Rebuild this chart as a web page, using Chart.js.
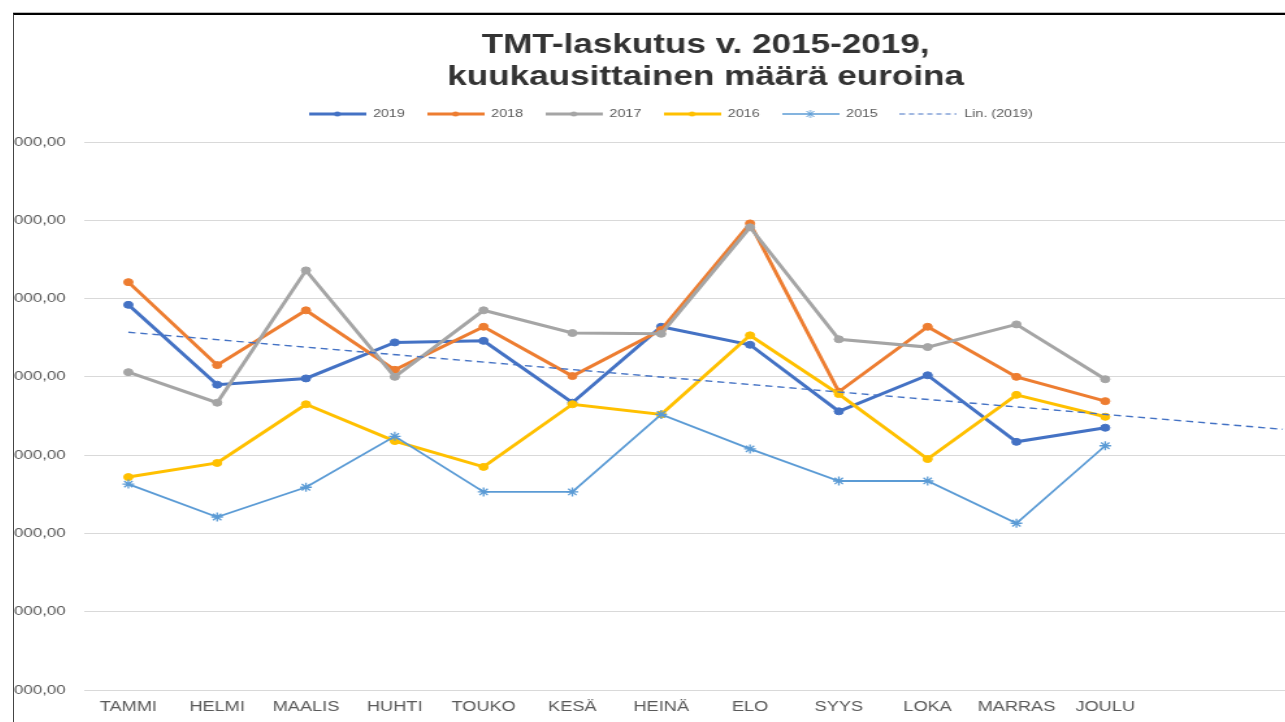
<!DOCTYPE html>
<html>
<head>
<meta charset="utf-8">
<script src="https://cdn.jsdelivr.net/npm/chart.js@4.4.1/dist/chart.umd.min.js"></script>
<style>
  html, body { margin: 0; padding: 0; background: #fff; width: 1285px; height: 722px; overflow: hidden; }
  #frame {
    position: absolute; left: 13px; top: 13px; width: 1290px; height: 720px;
    border-top: 2px solid #000; border-left: 1px solid #444;
    box-shadow: 0 -1px 0 #bbb; overflow: hidden; background: #fff;
  }
  /* the reference screenshot is stretched sideways, so is the canvas */
  #chart { position: absolute; left: 0; top: 1px; transform-origin: 0 0; transform: scaleX(1.3); }
</style>
</head>
<body>
<div id="frame"><canvas id="chart" width="1020" height="706"></canvas></div>
<script>
const months = ["TAMMI", "HELMI", "MAALIS", "HUHTI", "TOUKO", "KESÄ", "HEINÄ", "ELO", "SYYS", "LOKA", "MARRAS", "JOULU"];
const forecastSlots = ["", ""];

const y2019 = [4.92, 3.90, 3.98, 4.44, 4.46, 3.67, 4.64, 4.41, 3.56, 4.02, 3.17, 3.35];
const y2018 = [5.21, 4.15, 4.85, 4.09, 4.64, 4.01, 4.60, 5.96, 3.81, 4.64, 4.00, 3.69];
const y2017 = [4.06, 3.67, 5.36, 4.00, 4.85, 4.56, 4.55, 5.91, 4.48, 4.38, 4.67, 3.97];
const y2016 = [2.72, 2.90, 3.65, 3.18, 2.85, 3.65, 3.52, 4.53, 3.78, 2.95, 3.77, 3.49];
const y2015 = [2.63, 2.21, 2.59, 3.24, 2.53, 2.53, 3.52, 3.08, 2.67, 2.67, 2.13, 3.12];
// Lin. (2019): ends of the dashed trend line
const lin2019 = [4.57, null, null, null, null, null, null, null, null, null, null, null, null, 3.33];

const tickLabels = ["000,00", "000,00", "000,00", "000,00", "000,00", "000,00", "000,00", "000,00"];

const BLUE = "#4472C4", ORANGE = "#ED7D31", GRAY = "#A5A5A5", GOLD = "#FFC000", LIGHT = "#5B9BD5";

// small line + marker pictures for the legend, like Excel draws them
function legendImage(color, lw, marker, dash) {
  const c = document.createElement("canvas");
  c.width = 44; c.height = 12;
  const g = c.getContext("2d");
  g.strokeStyle = color; g.fillStyle = color; g.lineWidth = lw;
  g.setLineDash(dash || []);
  g.beginPath(); g.moveTo(0, 6); g.lineTo(44, 6); g.stroke();
  g.setLineDash([]);
  if (marker === "circle") {
    g.beginPath(); g.arc(22, 6, 2.5, 0, Math.PI * 2); g.fill();
  } else if (marker === "star") {
    g.lineWidth = 1;
    g.beginPath();
    g.moveTo(19, 3); g.lineTo(25, 9);
    g.moveTo(25, 3); g.lineTo(19, 9);
    g.moveTo(22, 2); g.lineTo(22, 10);
    g.stroke();
  }
  return c;
}

const legendPics = [
  legendImage(BLUE, 3, "circle"),
  legendImage(ORANGE, 3, "circle"),
  legendImage(GRAY, 3, "circle"),
  legendImage(GOLD, 3, "circle"),
  legendImage(LIGHT, 1.5, "star"),
  legendImage(BLUE, 1.2, null, [4, 3])
];

function lineSet(label, data, color, order) {
  return {
    label, data, order,
    borderColor: color, backgroundColor: color,
    borderWidth: 3, pointRadius: 3.5, pointHoverRadius: 3.5,
    pointBackgroundColor: color, pointBorderColor: color, pointBorderWidth: 1,
    tension: 0, fill: false
  };
}

const set2015 = {
  label: "2015", data: y2015, order: 2,
  borderColor: LIGHT, backgroundColor: LIGHT, borderWidth: 1.8,
  pointStyle: "star", pointRadius: 4.5, pointHoverRadius: 4.5,
  pointBorderColor: LIGHT, pointBorderWidth: 1.3, fill: false
};

const setLin = {
  label: "Lin. (2019)", data: lin2019, order: 1,
  borderColor: BLUE, borderWidth: 1.4, borderDash: [5.5, 3.8],
  pointRadius: 0, pointHoverRadius: 0, spanGaps: true, fill: false
};

new Chart(document.getElementById("chart"), {
  type: "line",
  data: {
    labels: months.concat(forecastSlots),
    datasets: [
      lineSet("2019", y2019, BLUE, 6),
      lineSet("2018", y2018, ORANGE, 5),
      lineSet("2017", y2017, GRAY, 4),
      lineSet("2016", y2016, GOLD, 3),
      set2015,
      setLin
    ]
  },
  options: {
    responsive: false,
    animation: false,
    layout: { padding: { left: 0, right: 9.8, top: 0, bottom: 0 } },
    plugins: {
      tooltip: { enabled: false },
      title: {
        display: true,
        fullSize: false,
        text: ["TMT-laskutus v. 2015-2019,", "kuukausittainen määrä euroina"],
        color: "#333333",
        font: { family: "Liberation Sans", size: 27, weight: "bold", lineHeight: 32 / 27 },
        padding: { top: 14, bottom: -2.5 }
      },
      legend: {
        position: "top",
        labels: {
          usePointStyle: true,
          pointStyleWidth: 44,
          padding: 17,
          color: "#595959",
          font: { family: "Liberation Sans", size: 11 },
          generateLabels(chart) {
            const items = Chart.defaults.plugins.legend.labels.generateLabels(chart);
            items.sort((a, b) => a.datasetIndex - b.datasetIndex);
            items.forEach(it => { it.pointStyle = legendPics[it.datasetIndex]; });
            return items;
          }
        }
      }
    },
    scales: {
      x: {
        offset: true,
        grid: { display: false, drawTicks: false },
        border: { display: false },
        ticks: {
          color: "#595959", padding: 9, maxRotation: 0, autoSkip: false,
          font: { family: "Liberation Sans", size: 14 }
        },
        afterFit(s) { s.height = 32; }
      },
      // empty band between legend and plot
      gap: {
        type: "category", position: "top", offset: true,
        grid: { display: false, drawTicks: false },
        border: { display: false },
        ticks: { display: false },
        afterFit(s) { s.height = 12.5; }
      },
      y: {
        min: 0, max: 7,
        grid: { color: "#D9D9D9", lineWidth: 1, drawTicks: false },
        border: { display: false },
        ticks: {
          stepSize: 1, crossAlign: "far", color: "#595959",
          font: { family: "Liberation Sans", size: 13 },
          callback: (v, i) => tickLabels[i]
        },
        afterFit(s) { s.width = 53.8; }
      }
    }
  }
});
</script>
</body>
</html>
